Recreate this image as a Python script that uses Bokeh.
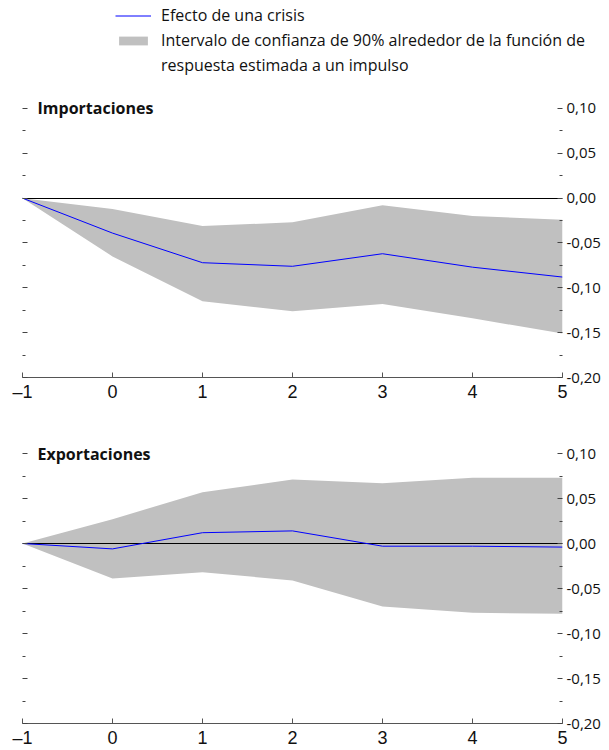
from bokeh.plotting import figure
from bokeh.models import (LinearAxis, FixedTicker, CustomJSTickFormatter, Legend,
                          LegendItem, Label, Range1d)
from bokeh.layouts import column
from bokeh.embed import file_html
from bokeh.resources import INLINE

# ---- data ----
horizon = [-1, 0, 1, 2, 3, 4, 5]
imp_effect = [0.0, -0.039, -0.072, -0.076, -0.062, -0.077, -0.088]
imp_upper = [0.0, -0.012, -0.031, -0.027, -0.008, -0.020, -0.024]
imp_lower = [0.0, -0.065, -0.115, -0.126, -0.118, -0.134, -0.151]
exp_effect = [0.0, -0.006, 0.012, 0.014, -0.003, -0.003, -0.004]
exp_upper = [0.0, 0.027, 0.057, 0.071, 0.067, 0.073, 0.073]
exp_lower = [0.0, -0.039, -0.032, -0.041, -0.070, -0.077, -0.078]
y_major = [-0.20, -0.15, -0.10, -0.05, 0.0, 0.05, 0.10]
y_minor = [-0.175, -0.125, -0.075, -0.025, 0.025, 0.075]
x_ticks = horizon
titles = ["Importaciones", "Exportaciones"]
legend_labels = ["Efecto de una crisis",
                 "Intervalo de confianza de 90% alrededor de la función de",
                 "respuesta estimada a un impulso"]

BAND = "#c0c0c0"
LINE = "#0000ff"
TICK = "#444444"
FONT = "Open Sans"
W = 609


def make_panel(title, effect, lower, upper, height, border_top, border_bottom):
    p = figure(width=W, height=height, x_range=Range1d(-1, 5), y_range=Range1d(-0.20, 0.12),
               output_backend="svg", toolbar_location=None,
               x_axis_location=None, y_axis_location=None,
               min_border_left=22, min_border_right=47,
               min_border_top=border_top, min_border_bottom=border_bottom)
    p.outline_line_color = None
    p.xgrid.visible = False
    p.ygrid.visible = False

    p.varea(x=horizon, y1=lower, y2=upper, fill_color=BAND)
    p.hspan(y=[0], line_color="black", line_width=1)
    p.line(horizon, effect, line_color=LINE, line_width=1)

    xaxis = LinearAxis(ticker=FixedTicker(ticks=x_ticks),
                       formatter=CustomJSTickFormatter(code="return tick < 0 ? '\u2013' + Math.abs(tick) : String(tick);"),
                       axis_line_color="#555555", major_tick_in=5, major_tick_out=0,
                       major_tick_line_color="#555555", minor_tick_line_color=None,
                       major_label_text_font="Liberation Sans", major_label_text_font_size="18px",
                       major_label_text_color="#111111", major_label_standoff=4)
    p.add_layout(xaxis, "below")

    yticker = FixedTicker(ticks=y_major, minor_ticks=y_minor)
    left = LinearAxis(ticker=yticker, formatter=CustomJSTickFormatter(code="return '';"),
                      axis_line_color=None, major_tick_in=5, major_tick_out=0,
                      minor_tick_in=3, minor_tick_out=0,
                      major_tick_line_color=TICK, minor_tick_line_color=TICK,
                      major_label_standoff=0)
    p.add_layout(left, "left")
    right = LinearAxis(ticker=yticker,
                       formatter=CustomJSTickFormatter(code="return tick.toFixed(2).replace('.', ',');"),
                       axis_line_color=None, major_tick_in=5, major_tick_out=0,
                       minor_tick_in=3, minor_tick_out=0,
                       major_tick_line_color=TICK, minor_tick_line_color=TICK,
                       major_label_text_font=FONT, major_label_text_font_size="15px",
                       major_label_text_color="#111111", major_label_standoff=4)
    p.add_layout(right, "right")

    p.add_layout(Label(x=p.x_range.start, y=y_major[-1], x_offset=15, text=title,
                       text_font=FONT, text_font_style="bold", text_font_size="16px",
                       text_baseline="middle", text_color="#111111"))
    return p


# legend block: its own frame spans the whole width so the long label is not clipped
leg = figure(width=W, height=90, output_backend="svg", toolbar_location=None,
             x_range=Range1d(0, 1), y_range=Range1d(0, 1),
             x_axis_location=None, y_axis_location=None,
             min_border_left=0, min_border_right=0, min_border_top=5, min_border_bottom=0)
leg.outline_line_color = None
leg.xgrid.visible = False
leg.ygrid.visible = False
r_line = leg.line(x=[-5], y=[-5], line_color=LINE, line_width=1)
r_band = leg.varea(x=[-5], y1=[-5], y2=[-5], fill_color=BAND)
r_none = leg.line(x=[-5], y=[-5], line_alpha=0)
legend = Legend(items=[LegendItem(label=legend_labels[0], renderers=[r_line]),
                       LegendItem(label=legend_labels[1], renderers=[r_band]),
                       LegendItem(label=legend_labels[2], renderers=[r_none])],
                location=(115, 14), orientation="vertical",
                border_line_color=None, background_fill_alpha=0,
                label_text_font=FONT, label_text_font_size="16px",
                label_text_color="#111111", label_height=22,
                glyph_width=36, glyph_height=11, padding=0, margin=0,
                spacing=3, label_standoff=10)
leg.add_layout(legend, "center")

p1 = make_panel(titles[0], imp_effect, imp_lower, imp_upper, 314, 0, 26)
p2 = make_panel(titles[1], exp_effect, exp_lower, exp_upper, 346, 31, 26)

layout = column(leg, column(p1, p2, spacing=0), spacing=0)
open("out.html", "w").write(file_html(layout, INLINE))
